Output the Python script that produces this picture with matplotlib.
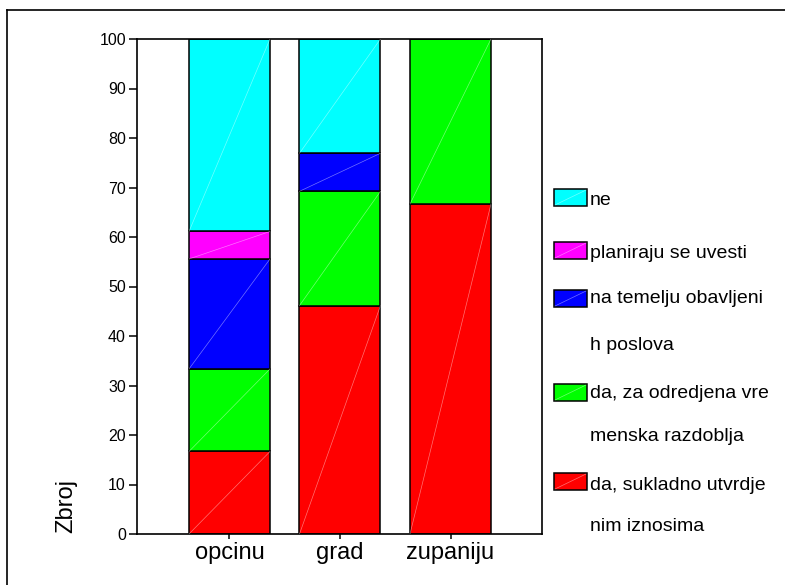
import numpy as np
import matplotlib.pyplot as plt
from matplotlib.patches import Rectangle
from matplotlib.lines import Line2D

plt.rcParams['font.family'] = ['Liberation Sans', 'DejaVu Sans']

# data (percent of answers per level of government)
categories = ['opcinu', 'grad', 'zupaniju']
series_names = ['da, sukladno utvrdje\nnim iznosima',
                'da, za odredjena vre\nmenska razdoblja',
                'na temelju obavljeni\nh poslova',
                'planiraju se uvesti',
                'ne']
sukladno = [16.67, 46.15, 66.67]
odredjena = [16.67, 23.08, 33.33]
obavljeni = [22.22, 7.69, 0.0]
planiraju = [5.56, 0.0, 0.0]
ne = [38.89, 23.08, 0.0]
colors = ['#ff0000', '#00ff00', '#0000ff', '#ff00ff', '#00ffff']

series = [sukladno, odredjena, obavljeni, planiraju, ne]

W, H = 785, 585
fig = plt.figure(figsize=(W / 100, H / 100), dpi=100)
ax = fig.add_axes([137 / W, 1 - 534 / H, 405 / W, 495 / H])

x = np.arange(len(categories))
bw = 0.733
bottom = np.zeros(len(categories))
for vals, col in zip(series, colors):
    vals = np.array(vals)
    ax.bar(x, vals, bw, bottom=bottom, color=col, edgecolor='black',
           linewidth=1.1, zorder=2)
    # thin white diagonal inside each segment
    for xi, b, v in zip(x, bottom, vals):
        if v > 0:
            ax.plot([xi - bw / 2, xi + bw / 2], [b, b + v], color='white',
                    lw=0.5, alpha=0.45, zorder=3)
    bottom = bottom + vals

ax.set_xlim(-0.837, 2.828)
ax.set_ylim(0, 100)
ax.set_yticks(np.arange(0, 101, 10))
ax.set_xticks(x)
ax.set_xticklabels(categories, fontsize=17)
ax.tick_params(axis='y', labelsize=11.5, length=6, width=1.1, pad=2)
ax.tick_params(axis='x', length=3.5, width=1.1, pad=2.5)
for s in ax.spines.values():
    s.set_linewidth(1.2)

ax.set_ylabel('Zbroj', fontsize=17)
ax.yaxis.set_label_coords(-0.148, 0.057)

# legend, drawn by hand to match the wide line spacing
patch_tops = [189, 242, 290, 384, 473]
line_base = [[205], [258], [303, 350], [398, 441], [490, 531]]
for col, name, top, bases in zip(colors[::-1], series_names[::-1],
                                 patch_tops, line_base):
    fig.patches.append(Rectangle((554 / W, 1 - (top + 17) / H), 33 / W, 17 / H,
                                 transform=fig.transFigure, facecolor=col,
                                 edgecolor='black', linewidth=1.1))
    fig.add_artist(Line2D([555 / W, 586 / W], [1 - (top + 16) / H, 1 - (top + 1) / H],
                          color='white', lw=0.5, alpha=0.45))
    for line, yb in zip(name.split('\n'), bases):
        fig.text(590 / W, 1 - yb / H, line, fontsize=14, ha='left',
                 va='baseline')

# outer frame
fig.add_artist(Line2D([7 / W, 1], [1 - 10 / H, 1 - 10 / H], color='black', lw=1.2))
fig.add_artist(Line2D([7 / W, 7 / W], [0, 1 - 10 / H], color='black', lw=1.2))

fig.savefig('out.png', dpi=100)
